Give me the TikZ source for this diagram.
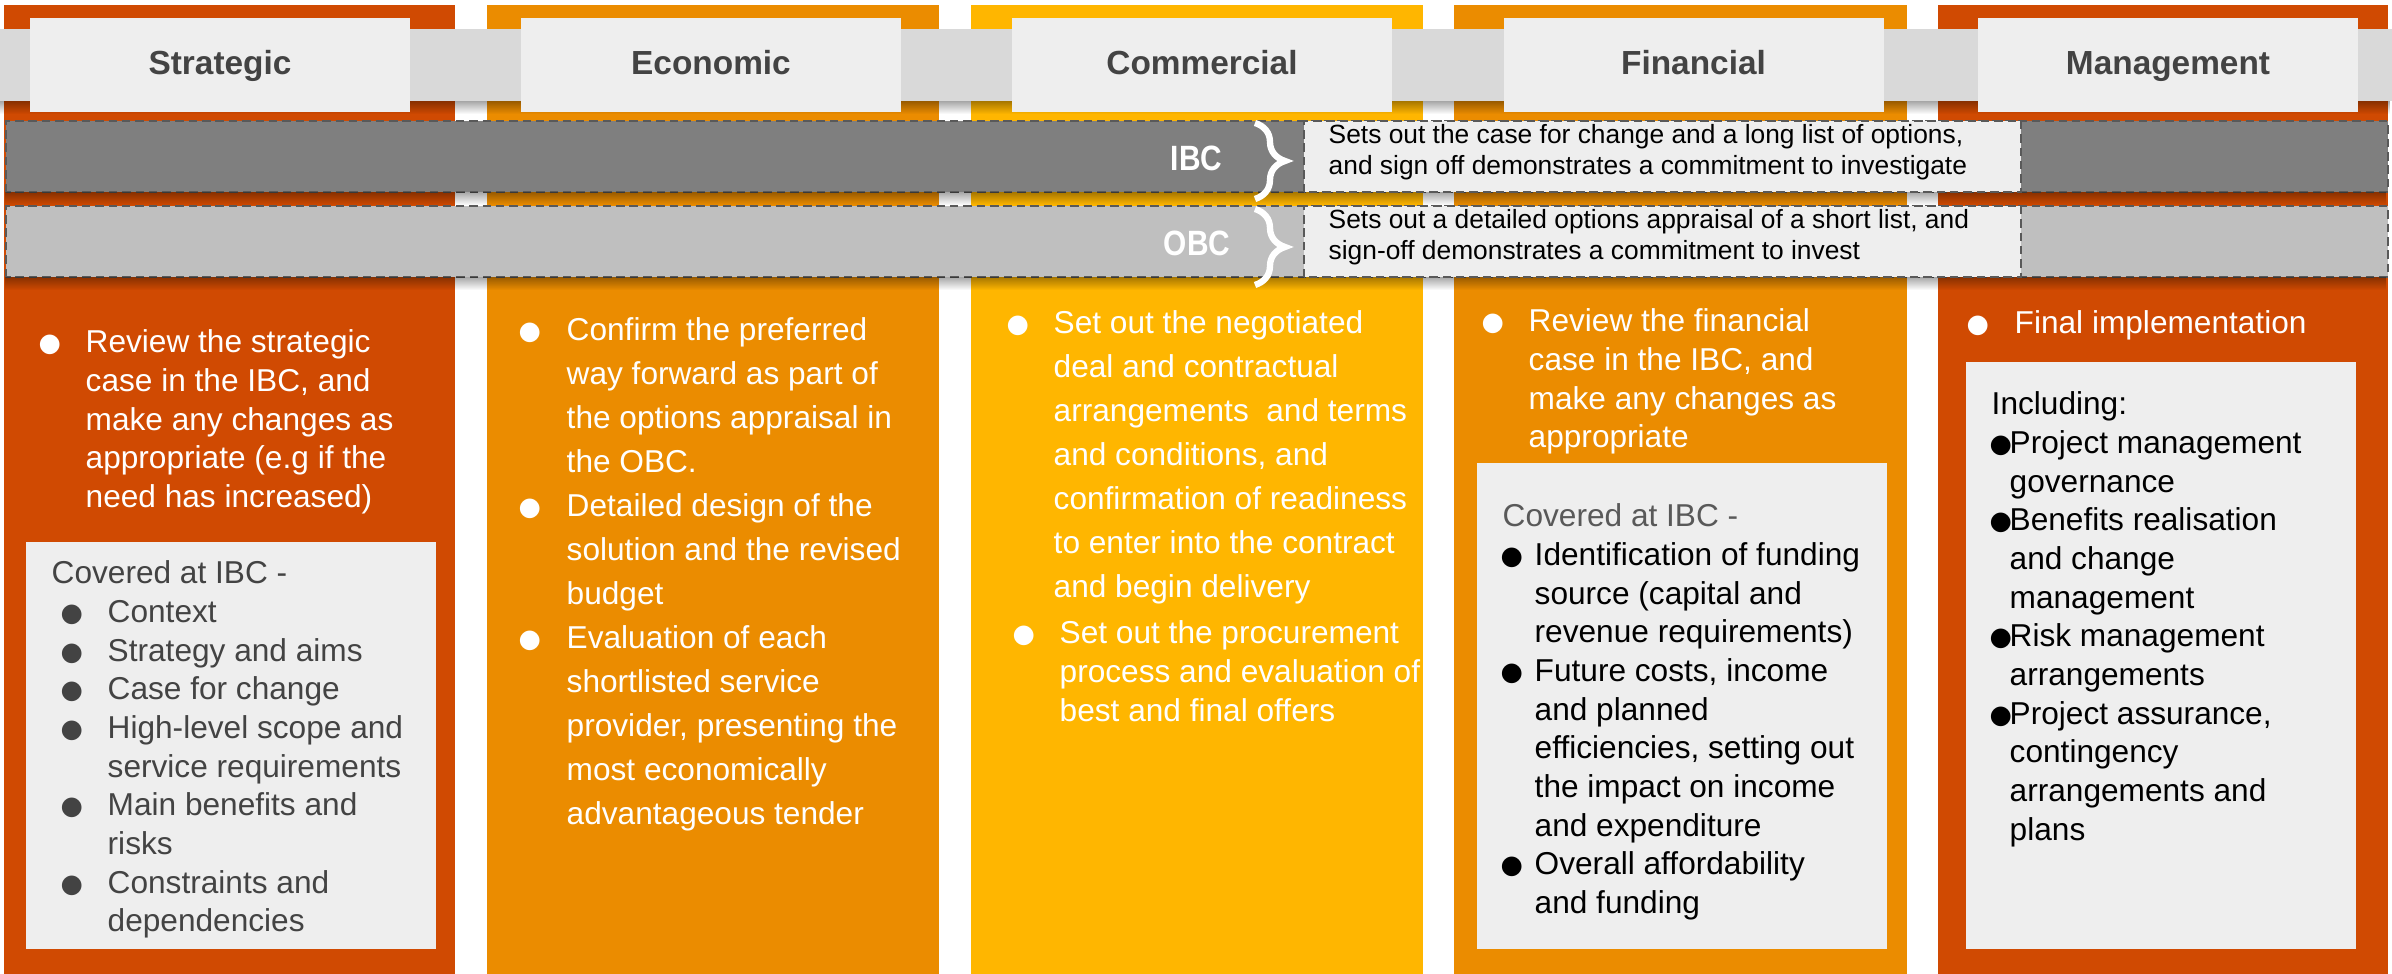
\documentclass[tikz,border=0pt]{standalone}
\usepackage{fontspec}
\setmainfont{Liberation Sans}
\newfontfamily\symfont{DejaVu Sans}
\usepackage{xcolor}
\usepackage{array}
\usepackage{graphicx}
\usetikzlibrary{positioning,fadings,decorations.pathreplacing}

\definecolor{pwcRed}{HTML}{D04A02}
\definecolor{pwcOrange}{HTML}{EB8C00}
\definecolor{pwcYellow}{HTML}{FFB600}
\definecolor{hdrBand}{HTML}{D9D9D9}
\definecolor{hdrBox}{HTML}{EEEEEE}
\definecolor{ibcGray}{HTML}{7F7F7F}
\definecolor{obcGray}{HTML}{BFBFBF}
\definecolor{dashGray}{HTML}{595959}
\definecolor{ttlGray}{HTML}{434343}
\definecolor{noteHead}{HTML}{595959}

\newcommand\blt{{\symfont\fontsize{7.3}{7.3}\selectfont\raisebox{0.3pt}{●}}}

\begin{document}
\begin{tikzpicture}[
  hdr/.style={fill=hdrBox, minimum width=3.8cm, minimum height=0.94cm, inner sep=0pt,
    text height=7.5pt, text depth=2pt, font=\fontsize{9.5}{11}\selectfont\bfseries, text=ttlGray},
  band/.style={draw=dashGray, dash pattern=on 2.4pt off 1.4pt, line width=0.8pt},
  desc/.style={font=\fontsize{7.5}{8.8}\selectfont, inner sep=0pt, anchor=base west},
  stg/.style={font=\fontsize{10}{12}\selectfont\bfseries, text=white, inner sep=0pt, anchor=base east},
  brc/.style={decorate, decoration={brace, amplitude=0.3cm}, draw=white, line width=1.8pt},
  body/.style={font=\fontsize{9}{11}\selectfont, text=white, inner sep=0pt, anchor=base west},
  bodyw/.style={body, font=\fontsize{9}{12.5}\selectfont},
  note/.style={fill=hdrBox},
  shd/.style={fill=black, opacity=.35, path fading=south}
]
\useasboundingbox (0,0) rectangle (23.92,9.74);

% Columns
\fill[pwcRed]    (0.04,0) rectangle (4.55,9.69);
\fill[pwcOrange] (4.87,0) rectangle (9.39,9.69);
\fill[pwcYellow] (9.71,0) rectangle (14.23,9.69);
\fill[pwcOrange] (14.54,0) rectangle (19.07,9.69);
\fill[pwcRed]    (19.38,0) rectangle (23.88,9.69);

% Header band + titles
\fill[hdrBand] (0,8.73) rectangle (23.92,9.45);
\fill[shd] (0,8.73) rectangle (23.92,8.60);
\node[hdr] (tStrat) at (2.20,9.09) {Strategic};
\node[hdr] (tEcon)  at (7.11,9.09) {Economic};
\node[hdr] (tComm)  at (12.02,9.09) {Commercial};
\node[hdr] (tFin)   at (16.935,9.09) {Financial};
\node[hdr] (tMgmt)  at (21.68,9.09) {Management};

% IBC band
\draw[band, fill=ibcGray] (0.06,7.82) rectangle (23.88,8.53);
\fill[shd] (0.06,7.82) rectangle (23.88,7.69);
\draw[band, fill=hdrBox] (13.04,7.82) rectangle (20.21,8.53);
\node[stg] (ibc) at (12.23,8.03) {\scalebox{0.85}[1]{IBC}};
\draw[brc] (12.55,8.51) -- (12.55,7.75);
\node[desc] (ibcTxt) at (13.28,8.30) {\begin{tabular}[t]{@{}l@{}}
Sets out the case for change and a long list of options,\\
and sign off demonstrates a commitment to investigate
\end{tabular}};

% OBC band
\draw[band, fill=obcGray] (0.06,6.97) rectangle (23.88,7.68);
\fill[shd] (0.06,6.97) rectangle (23.88,6.84);
\draw[band, fill=hdrBox] (13.04,6.97) rectangle (20.21,7.68);
\node[stg] (obc) at (12.31,7.18) {\scalebox{0.85}[1]{OBC}};
\draw[brc] (12.55,7.65) -- (12.55,6.89);
\node[desc] (obcTxt) at (13.28,7.45) {\begin{tabular}[t]{@{}l@{}}
Sets out a detailed options appraisal of a short list, and\\
sign-off demonstrates a commitment to invest
\end{tabular}};

% Strategic
\node[body] (sBody) at (0.38,6.21) {\begin{tabular}[t]{@{}p{0.47cm}@{}l@{}}
\blt & Review the strategic\\
 & case in the IBC, and\\
 & make any changes as\\
 & appropriate (e.g if the\\
 & need has increased)
\end{tabular}};
\fill[note] (0.26,0.25) rectangle (4.36,4.32);
\node[body, text=ttlGray] (sNote) at (0.51,3.90) {\begin{tabular}[t]{@{}p{0.09cm}@{}p{0.47cm}@{}l@{}}
\multicolumn{3}{@{}l@{}}{Covered at IBC -}\\
 & \blt & Context\\
 & \blt & Strategy and aims\\
 & \blt & Case for change\\
 & \blt & High-level scope and\\
 & & service requirements\\
 & \blt & Main benefits and\\
 & & risks\\
 & \blt & Constraints and\\
 & & dependencies
\end{tabular}};

% Economic
\node[bodyw] (eBody) at (5.18,6.33) {\begin{tabular}[t]{@{}p{0.48cm}@{}l@{}}
\blt & Confirm the preferred\\
 & way forward as part of\\
 & the options appraisal in\\
 & the OBC.\\
\blt & Detailed design of the\\
 & solution and the revised\\
 & budget\\
\blt & Evaluation of each\\
 & shortlisted service\\
 & provider, presenting the\\
 & most economically\\
 & advantageous tender
\end{tabular}};

% Commercial
\node[bodyw] (cBody) at (10.06,6.40) {\begin{tabular}[t]{@{}p{0.47cm}@{}l@{}}
\blt & Set out the negotiated\\
 & deal and contractual\\
 & arrangements\ \ and terms\\
 & and conditions, and\\
 & confirmation of readiness\\
 & to enter into the contract\\
 & and begin delivery
\end{tabular}};
\node[body] (cBody2) at (10.12,3.30) {\begin{tabular}[t]{@{}p{0.47cm}@{}l@{}}
\blt & Set out the procurement\\
 & process and evaluation of\\
 & best and final offers
\end{tabular}};

% Financial
\node[body] (fBody) at (14.81,6.42) {\begin{tabular}[t]{@{}p{0.47cm}@{}l@{}}
\blt & Review the financial\\
 & case in the IBC, and\\
 & make any changes as\\
 & appropriate
\end{tabular}};
\fill[note] (14.77,0.25) rectangle (18.87,5.11);
\node[body, text=black] (fNote) at (15.00,4.47) {\begin{tabular}[t]{@{}p{0.34cm}@{}l@{}}
\multicolumn{2}{@{\hspace{0.02cm}}l@{}}{\textcolor{noteHead}{Covered at IBC -}}\\
\blt & Identification of funding\\
 & source (capital and\\
 & revenue requirements)\\
\blt & Future costs, income\\
 & and planned\\
 & efficiencies, setting out\\
 & the impact on income\\
 & and expenditure\\
\blt & Overall affordability\\
 & and funding
\end{tabular}};

% Management
\node[body] (mBody) at (19.66,6.40) {\begin{tabular}[t]{@{}p{0.48cm}@{}l@{}}
\blt & Final implementation
\end{tabular}};
\fill[note] (19.66,0.25) rectangle (23.56,6.12);
\node[body, text=black] (mNote) at (19.89,5.59) {\begin{tabular}[t]{@{}p{0.20cm}@{}l@{}}
\multicolumn{2}{@{\hspace{0.02cm}}l@{}}{Including:}\\
\blt & Project management\\
 & governance\\
\blt & Benefits realisation\\
 & and change\\
 & management\\
\blt & Risk management\\
 & arrangements\\
\blt & Project assurance,\\
 & contingency\\
 & arrangements and\\
 & plans
\end{tabular}};
\end{tikzpicture}
\end{document}
